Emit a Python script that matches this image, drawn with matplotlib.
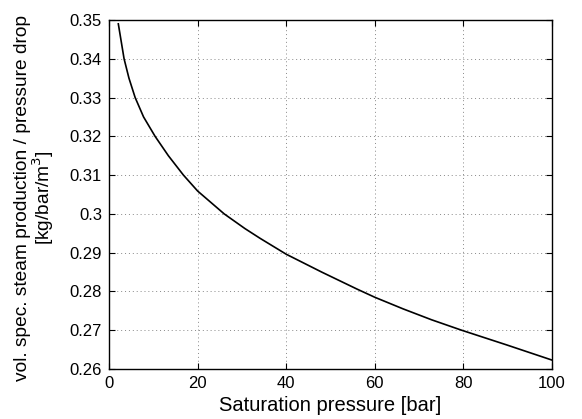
import matplotlib
matplotlib.use("Agg")
import matplotlib.pyplot as plt

# values
pressure = [2.1, 3.4, 4.5, 5.9, 7.8, 10.4, 13.4, 16.8, 20, 26, 30.7, 34.1,
            40, 48, 56, 60, 66.4, 72.8, 79.6, 89.8, 100]
ratio = [0.349, 0.34, 0.335, 0.33, 0.325, 0.32, 0.315, 0.31, 0.3059, 0.30,
         0.2962, 0.2937, 0.2896, 0.2850, 0.2806, 0.2785, 0.2755, 0.2727,
         0.27, 0.2662, 0.2623]

xticks = [0, 20, 40, 60, 80, 100]
yticks = [0.26, 0.27, 0.28, 0.29, 0.3, 0.31, 0.32, 0.33, 0.34, 0.35]
ytick_labels = ["0.26", "0.27", "0.28", "0.29", "0.3", "0.31", "0.32", "0.33", "0.34", "0.35"]

plt.rcParams["font.family"] = ["Liberation Sans", "DejaVu Sans"]

fig = plt.figure(figsize=(5.82, 4.19), dpi=100)
ax = fig.add_axes([0.1873, 0.1193, 0.7612, 0.833])

ax.plot(pressure, ratio, color="black", linewidth=1.2)

ax.set_xlim(0, 100)
ax.set_ylim(0.26, 0.35)
ax.set_xticks(xticks)
ax.set_yticks(yticks)
ax.set_yticklabels(ytick_labels)
ax.tick_params(direction="in", top=True, right=True, length=4, width=0.8,
               labelsize=12, pad=5)
for s in ax.spines.values():
    s.set_linewidth(1.0)
ax.grid(True, linestyle=(0, (1, 3)), linewidth=0.7, color="#888888")

ax.set_xlabel("Saturation pressure [bar]", fontsize=14.5)
ax.xaxis.set_label_coords(0.5, -0.078)
ax.set_ylabel("vol. spec. steam production / pressure drop\n[kg/bar/m$^3$]",
              fontsize=13.8, linespacing=0.95)
ax.yaxis.set_label_coords(-0.12, 0.49)

fig.savefig("out.png", dpi=100)
